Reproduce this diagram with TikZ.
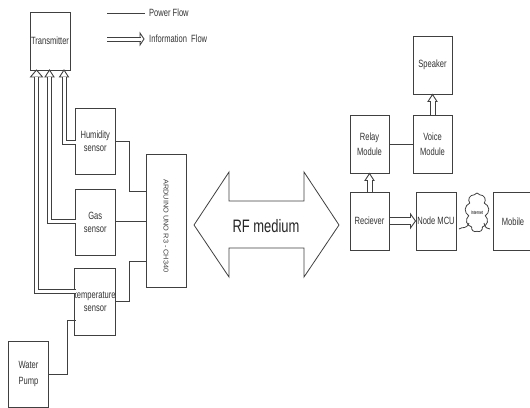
\documentclass[tikz,border=0pt]{standalone}
\usepackage{fontspec}
\setmainfont[FakeStretch=0.72]{Liberation Sans}
\newfontfamily\widefont[FakeStretch=1.05]{Liberation Sans}
\usetikzlibrary{shapes.symbols}
\definecolor{ln}{gray}{0.25}
\tikzset{
  blockbox/.style={draw=ln,line width=1pt,fill=white,inner sep=0pt,align=center,font=\fontsize{10.5}{13}\selectfont,text=black!80},
  power/.style={draw=ln,line width=1pt},
  info/.style={draw=white,line width=#1,line join=miter,preaction={draw=ln,line width=#1+2pt,line join=miter}},
  info/.default=3pt,
  headmark/.style={draw=ln,line width=0.9pt,fill=white,line join=miter},
  lbl/.style={inner sep=0pt,anchor=west,font=\fontsize{10.5}{12}\selectfont,text=black!80}
}
\newcommand{\bx}[6]{\node[blockbox,minimum width=#3pt-#1pt,minimum height=#4pt-#2pt] (#5) at ({(#1+#3)/2},{(#2+#4)/2}) {#6};}
% arrow heads: tip coordinate, half width, length
\newcommand{\hup}[3]{\draw[headmark] (#1) -- ++(-#2,#3) -- ++(2*#2,0) -- cycle;}
\newcommand{\hright}[3]{\draw[headmark] (#1) -- ++(-#3,-#2) -- ++(0,2*#2) -- cycle;}
\begin{document}
\begin{tikzpicture}[x=1pt,y=-1pt]
\useasboundingbox (0,0) rectangle (530,407);
\bx{30}{12}{70}{70}{tx}{Transmitter}
\bx{75.5}{108}{115}{174}{hum}{Humidity\\sensor}
\bx{75.5}{189}{115}{255}{gas}{Gas\\sensor}
\bx{75.5}{268}{115}{335}{temp}{temperature\\sensor}
\bx{8.5}{341}{48.5}{407}{pump}{Water\\[3pt]Pump}
\bx{146}{154}{186}{287}{ard}{}
\node[rotate=-90,inner sep=0pt,font=\widefont\fontsize{7}{8}\selectfont,text=black!75] (ardlbl) at (166,226) {ARDUINO UNO R3 - CH340};
\bx{413}{36}{452}{94}{spk}{Speaker}
\bx{413}{115}{452}{173}{voice}{Voice\\[2pt]Module}
\bx{350}{115}{389}{173}{relay}{Relay\\[2pt]Module}
\bx{350}{192}{389}{250}{recv}{Reciever}
\bx{416}{192}{456}{250}{mcu}{Node MCU}
\bx{493}{192}{540}{250}{mob}{}
\node[inner sep=0pt,font=\fontsize{10.5}{12}\selectfont,text=black!80] (moblbl) at (513,222) {Mobile};
% legend
\coordinate (pa) at (107,13); \coordinate (pb) at (145,13);
\draw[power] (pa) -- (pb);
\node[lbl] (plab) at (149,12.5) {Power Flow};
\coordinate (ia) at (107,39); \coordinate (ib) at (144,39);
\hright{ib}{6}{4}
\draw[info,shorten >=3.5pt] (ia) -- (ib);
\node[lbl] (ilab) at (149,39) {Information\ \ Flow};
% big arrow
\draw[ln,line width=0.8pt,fill=white] (194,225) -- (229,172) -- (229,201) -- (304,201) -- (304,172) -- (339,225) -- (304,277) -- (304,248) -- (229,248) -- (229,277) -- cycle;
\node[inner sep=0pt,font=\fontsize{18}{20}\selectfont,text=black!85] (rf) at (266,226) {RF medium};
% info connectors
\coordinate (t1) at (64,70); \coordinate (t2) at (49.5,70); \coordinate (t3) at (36.5,70);
\hup{t1}{4.5}{7}
\hup{t2}{4.5}{7}
\hup{t3}{6}{7}
\draw[info,shorten >=6.5pt] (75.5,142) -| (t1);
\draw[info,shorten >=6.5pt] (75.5,221.5) -| (t2);
\draw[info,shorten >=6.5pt] (75.5,291.5) -| (t3);
\hup{spk.south}{4.5}{7}
\draw[info=4pt,shorten >=6.5pt] (voice.north) -- (spk.south);
\hup{relay.south}{4.5}{7}
\draw[info=4pt,shorten >=6.5pt] (recv.north) -- (relay.south);
\hright{mcu.west}{7}{5}
\draw[info=5.5pt,shorten >=4.5pt] (recv.east) -- (mcu.west);
% power connectors
\draw[power] (115,141) -- (129,141) |- (146,191);
\draw[power] (115,221) -- (146,221);
\draw[power] (115,301) -- (129,301) |- (146,261);
\draw[power] (48.5,374) -- (67,374) |- (75.5,320);
\draw[power] (relay.east) -- (voice.west);
% cloud
\node[draw=ln,line width=0.8pt,cloud,cloud puffs=9,cloud puff arc=130,aspect=0.65,minimum width=24pt,minimum height=39pt,inner sep=0pt,fill=white] (cl) at (477,212.5) {};
\node[inner sep=0pt,font=\fontsize{5}{6}\selectfont] (cltxt) at (cl.center) {Internet};
\coordinate (tl) at (459,229); \coordinate (tr) at (490,229);
\draw[ln,line width=0.8pt] (tl) .. controls (463,226) and (466,230) .. (469,223);
\draw[ln,line width=0.8pt] (484,223) .. controls (486,230) and (487,227) .. (tr);
\end{tikzpicture}
\end{document}
